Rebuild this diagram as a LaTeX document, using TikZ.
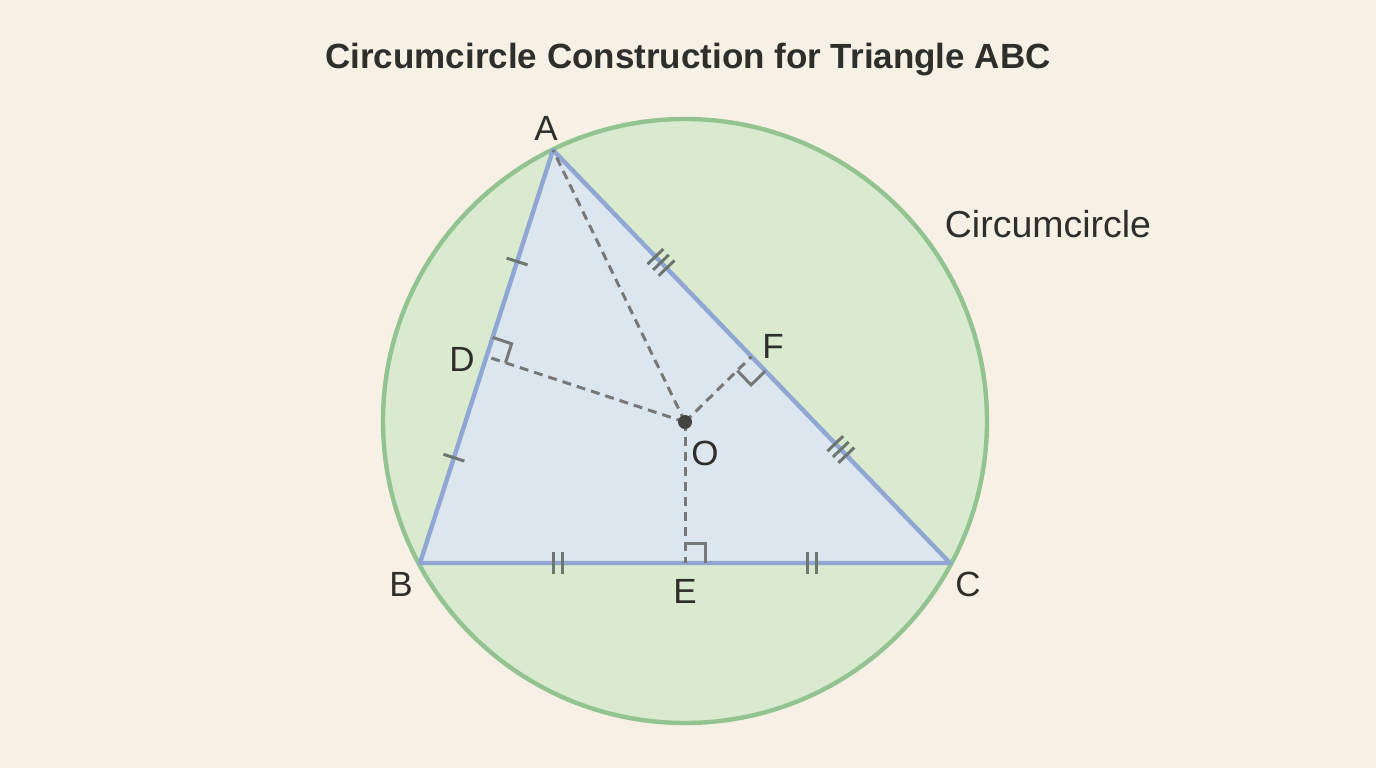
\documentclass[tikz,border=0pt]{standalone}
\usepackage{fontspec}
\setmainfont{Liberation Sans}
\usetikzlibrary{calc}
\definecolor{bgc}{HTML}{F7F1E5}
\definecolor{circfill}{HTML}{D9EACF}
\definecolor{circline}{HTML}{92C391}
\definecolor{trifill}{HTML}{DCE6EF}
\definecolor{triline}{HTML}{8FA7D2}
\definecolor{dashc}{HTML}{777979}
\definecolor{tickc}{HTML}{6E7670}
\definecolor{txt}{HTML}{2E2E2A}
\newcommand{\tkmark}[4]{%
  \coordinate (tkp) at ($(#1)!#3!(#2)$);
  \coordinate (tkq) at ($(tkp)!#4!(#2)$);
  \draw[tickln] ($(tkq)!11pt!90:(#2)$) -- ($(tkq)!11pt!-90:(#2)$);}
\newcommand{\ramark}[3]{%
  \coordinate (ra1) at ($(#1)!20pt!(#2)$);
  \coordinate (ra2) at ($(#1)!20pt!(#3)$);
  \draw[rightang] (ra1) -- ($(ra1)+(ra2)-(#1)$) -- (ra2);}
\begin{document}
\begin{tikzpicture}[x=1pt,y=-1pt,
  lbl/.style={text=txt,font=\fontsize{35}{40}\selectfont,inner sep=0pt},
  dashln/.style={draw=dashc,line width=3pt,dash pattern=on 9pt off 6pt},
  rightang/.style={draw=dashc,line width=3pt},
  tickln/.style={draw=tickc,line width=3pt}]
\useasboundingbox[fill=bgc] (0,0) rectangle (1376,768);
% points
\coordinate (A) at (553,150);
\coordinate (B) at (420,563);
\coordinate (C) at (950,563);
\coordinate (O) at (685,422);
\coordinate (D) at ($(A)!0.5!(B)$);
\coordinate (E) at ($(B)!0.5!(C)$);
\coordinate (F) at ($(A)!0.5!(C)$);
% circle
\draw[fill=circfill,draw=circline,line width=4.4pt] (685,421) circle[radius=302];
% triangle
\draw[fill=trifill,draw=triline,line width=4.4pt,line join=round] (A) -- (B) -- (C) -- cycle;
% dashed
\draw[dashln] (O) -- (A);
\draw[dashln] (O) -- (D);
\draw[dashln] (O) -- (F);
\draw[dashln] (O) -- (E);
% right angle marks
\ramark{D}{A}{O}
\ramark{E}{C}{O}
\ramark{F}{C}{O}
% ticks AB
\tkmark{A}{B}{0.27}{0pt}
\tkmark{A}{B}{0.745}{0pt}
% ticks BC
\tkmark{B}{C}{0.26}{-4.5pt}
\tkmark{B}{C}{0.26}{4.5pt}
\tkmark{B}{C}{0.74}{-4.5pt}
\tkmark{B}{C}{0.74}{4.5pt}
% ticks AC
\tkmark{A}{C}{0.272}{-8pt}
\tkmark{A}{C}{0.272}{0pt}
\tkmark{A}{C}{0.272}{8pt}
\tkmark{A}{C}{0.725}{-8pt}
\tkmark{A}{C}{0.725}{0pt}
\tkmark{A}{C}{0.725}{8pt}
% center dot
\fill[fill=txt!90!white] (O) circle[radius=7];
% labels
\node[lbl] (lA) at (546,128) {A};
\node[lbl] (lB) at (401,584) {B};
\node[lbl] (lC) at (968,584) {C};
\node[lbl] (lD) at (462,359) {D};
\node[lbl] (lE) at (685,591) {E};
\node[lbl] (lF) at (773,346) {F};
\node[lbl] (lO) at (705,453) {O};
\node[lbl,font=\fontsize{37.5}{40}\selectfont] (lcirc) at (1048,224) {Circumcircle};
\node[text=txt,inner sep=0pt,font=\fontsize{35}{40}\selectfont\bfseries] (title) at (688,60) {Circumcircle Construction for Triangle ABC};
\end{tikzpicture}
\end{document}
